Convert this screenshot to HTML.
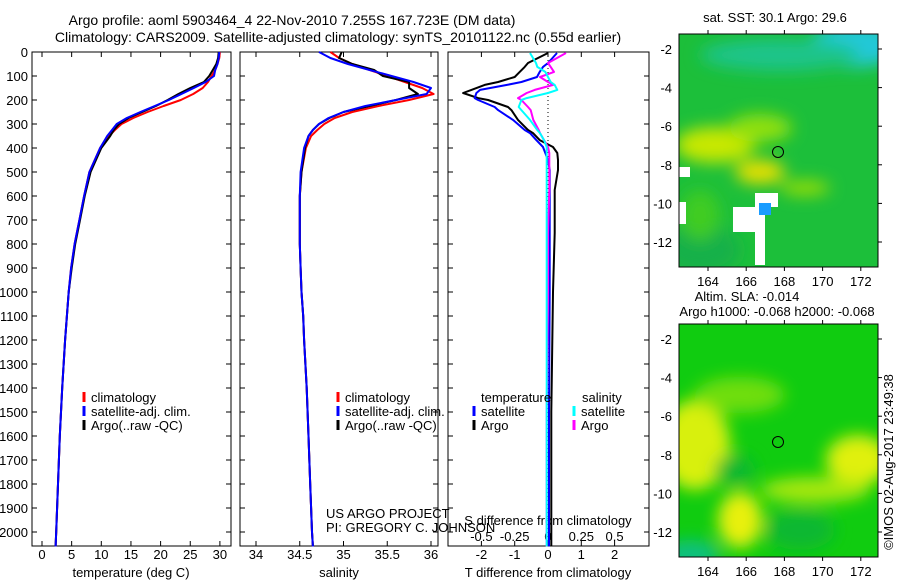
<!DOCTYPE html>
<html><head><meta charset="utf-8">
<style>
body{margin:0;background:#fff;width:900px;height:580px;overflow:hidden}
svg text{font-family:"Liberation Sans",sans-serif;font-size:13px;fill:#000}
</style></head><body>
<svg id="c" width="900" height="580" viewBox="0 0 900 580">
<defs>
<filter id="bl" x="-50%" y="-50%" width="200%" height="200%"><feGaussianBlur stdDeviation="8"/></filter>
<clipPath id="m1"><rect x="679" y="34" width="199" height="233"/></clipPath>
<clipPath id="m2"><rect x="679" y="324" width="199" height="233"/></clipPath>
</defs>
<text x="292" y="25" text-anchor="middle" style="font-size:14px">Argo profile: aoml 5903464_4 22-Nov-2010 7.255S 167.723E (DM data)</text>
<text x="338" y="42" text-anchor="middle" style="font-size:14px">Climatology: CARS2009. Satellite-adjusted climatology: synTS_20101122.nc (0.55d earlier)</text>
<g id="g"></g>
<g clip-path="url(#m1)">
<rect x="679" y="34" width="199" height="233" fill="#1cbf3a"/>
<g filter="url(#bl)">
<ellipse cx="855" cy="45" rx="45" ry="22" fill="#22c8d8"/>
<ellipse cx="780" cy="55" rx="80" ry="16" fill="#1ec48a"/>
<ellipse cx="715" cy="145" rx="40" ry="18" fill="#c8e800"/>
<ellipse cx="760" cy="172" rx="25" ry="12" fill="#e8e000"/>
<ellipse cx="760" cy="128" rx="32" ry="14" fill="#90e010"/>
<ellipse cx="700" cy="250" rx="40" ry="25" fill="#18b048"/>
<ellipse cx="805" cy="188" rx="25" ry="7" fill="#a0e000"/>
<ellipse cx="700" cy="215" rx="20" ry="25" fill="#40cc20"/>
</g>
<rect x="679" y="167" width="11" height="10" fill="#fff"/>
<rect x="679" y="202" width="7" height="22" fill="#fff"/>
<rect x="733" y="207" width="26" height="25" fill="#fff"/>
<rect x="755" y="193" width="23" height="14" fill="#fff"/>
<rect x="755" y="205" width="10" height="60" fill="#fff"/>
<rect x="759" y="203" width="12" height="12" fill="#1a9cff"/>
<circle cx="778" cy="152" r="5.5" fill="none" stroke="#000"/>
</g>
<rect x="679" y="34" width="199" height="233" fill="none" stroke="#000"/>
<g clip-path="url(#m2)">
<rect x="679" y="324" width="199" height="233" fill="#10cc10"/>
<g filter="url(#bl)">
<ellipse cx="695" cy="445" rx="35" ry="45" fill="#d8f010"/>
<ellipse cx="740" cy="395" rx="45" ry="18" fill="#70de10"/>
<ellipse cx="740" cy="520" rx="22" ry="28" fill="#e8f010"/>
<ellipse cx="858" cy="460" rx="32" ry="25" fill="#e0f010"/>
<ellipse cx="815" cy="490" rx="55" ry="13" fill="#a8e810"/>
<ellipse cx="800" cy="530" rx="35" ry="20" fill="#10b830"/>
<ellipse cx="735" cy="470" rx="20" ry="15" fill="#10b830"/>
<ellipse cx="690" cy="555" rx="30" ry="15" fill="#10c080"/>
</g>
<circle cx="778" cy="442" r="5.5" fill="none" stroke="#000"/>
</g>
<rect x="679" y="324" width="199" height="233" fill="none" stroke="#000"/>
<text x="775" y="22" text-anchor="middle">sat. SST: 30.1  Argo: 29.6</text>
<text x="747" y="301" text-anchor="middle">Altim. SLA: -0.014</text>
<text x="777" y="316" text-anchor="middle">Argo h1000: -0.068 h2000: -0.068</text>
<text transform="translate(893,462) rotate(-90)" text-anchor="middle">©IMOS 02-Aug-2017 23:49:38</text>
</svg>
<script>
const depths=[0,25,50,75,100,125,150,175,200,225,250,275,300,325,350,400,500,600,700,800,900,1000,1100,1200,1400,1600,1800,2000,2060];
const tClim=[30,29.9,29.6,29.2,28.6,28.0,27.1,25.5,23.4,20.5,17.8,15.4,13.4,12.3,11.3,9.8,8.0,7.1,6.3,5.5,4.9,4.5,4.2,3.9,3.4,3.0,2.7,2.4,2.3];
const tSat=[29.9,29.8,29.6,29.2,29.0,27.6,25.6,23.5,21.4,19.0,16.6,14.3,12.6,11.8,11.0,9.8,8.0,7.1,6.3,5.5,4.9,4.5,4.2,3.9,3.4,3.0,2.7,2.4,2.3];
const tArgo=[29.8,29.7,29.4,28.8,28.2,27.3,25.0,23.0,21.2,19.2,16.9,14.6,13.0,12.1,11.5,10.0,8.2,7.2,6.4,5.6,5.0,4.5,4.2,3.9,3.4,3.0,2.7,2.4,2.3];
const sClim=[34.85,34.95,35.1,35.3,35.5,35.7,35.9,36.03,35.75,35.4,35.1,34.9,34.78,34.7,34.63,34.57,34.52,34.5,34.5,34.5,34.51,34.52,34.54,34.55,34.58,34.6,34.62,34.64,34.65];
const sSat=[34.72,34.85,35.05,35.3,35.55,35.8,36.0,35.95,35.6,35.25,35.0,34.83,34.72,34.65,34.6,34.55,34.51,34.5,34.5,34.5,34.51,34.52,34.54,34.55,34.58,34.6,34.62,34.64,34.65];
const sArgo=[34.98,34.95,35.1,35.35,35.45,35.75,35.75,35.85,35.6,35.3,35.0,34.84,34.72,34.65,34.6,34.56,34.52,34.5,34.5,34.5,34.51,34.52,34.54,34.55,34.58,34.6,34.62,34.64,34.65];
const dDepth=[4,46,62,83,104,125,137,158,171,192,200,229,242,283,325,338,367,396,421,450,492,575,754,1000,1500,2060];
const dtArgo=[0,-0.6,-0.7,-0.85,-1.0,-1.5,-1.9,-2.3,-2.55,-2.1,-1.8,-1.2,-1.1,-0.9,-0.6,-0.45,-0.25,0.15,0.28,0.3,0.3,0.2,0.2,0.15,0.1,0.1];
const dtSat=[0.27,0,-0.15,-0.25,-0.33,-0.8,-1.23,-2.04,-2.15,-2.2,-2.1,-1.6,-1.5,-1.05,-0.7,-0.54,-0.35,-0.15,-0.08,0,0.05,0.05,0.05,0.05,0.03,0.03];
const dsArgo=[0.135,0,0.02,0.045,-0.06,0.0,0.04,-0.1,-0.16,-0.225,-0.2,-0.15,-0.13,-0.11,-0.07,-0.06,-0.03,0,0.01,0.01,0.01,0.01,0.0,0.0,-0.01,-0.01];
const dsSat=[-0.135,-0.09,-0.08,-0.02,0,0.02,0.05,0.07,0.0,-0.16,-0.2,-0.22,-0.2,-0.135,-0.08,-0.06,-0.03,-0.01,-0.01,-0.01,-0.01,-0.01,-0.01,-0.01,-0.01,-0.01];
const depthTicks=[0,100,200,300,400,500,600,700,800,900,1000,1100,1200,1300,1400,1500,1600,1700,1800,1900,2000];
const tTicks=[0,5,10,15,20,25,30];
const sTicks=[34,34.5,35,35.5,36];
const sTickLabels=["34","34.5","35","35.5","36"];
const dTTicks=[-2,-1,0,1,2];
const dSTicks=[-0.5,-0.25,0,0.25,0.5];
const latTicks=[-2,-4,-6,-8,-10,-12];
const lonTicks=[164,166,168,170,172];

const NS="http://www.w3.org/2000/svg";
const G=document.getElementById('g');
function el(t,a,p){const e=document.createElementNS(NS,t);for(const k in a)e.setAttribute(k,a[k]);(p||G).appendChild(e);return e;}
function txt(x,y,s,anchor,p){const e=el('text',{x:x,y:y,'text-anchor':anchor||'start'},p);e.textContent=s;return e;}
const Y0=52,Y1=546;
const yD=d=>Y0+d*0.24;
const xT=t=>42+t*5.93;
const xS=s=>256+(s-34)*87.5;
const xDT=t=>548+t*33.3;
const xDS=s=>548+s*133.2;

function frame(x0,x1,name){
  const r=el('rect',{x:x0,y:Y0,width:x1-x0,height:Y1-Y0,fill:'none',stroke:'#000'});
  
  
  depthTicks.forEach(d=>{el('line',{x1:x0,x2:x0+5,y1:yD(d),y2:yD(d),stroke:'#000'});el('line',{x1:x1-5,x2:x1,y1:yD(d),y2:yD(d),stroke:'#000'});});
}
function xticks(xs,f,labels,ly){
  xs.forEach((v,i)=>{const x=f(v);el('line',{x1:x,x2:x,y1:Y1,y2:Y1-5,stroke:'#000'});el('line',{x1:x,x2:x,y1:Y0,y2:Y0+5,stroke:'#000'});
    const t=txt(x,ly,labels[i],'middle');
    
    });
}
function line(xs,ds,fx,color,name,w){
  const pts=xs.map((v,i)=>fx(v).toFixed(1)+','+yD(ds[i]).toFixed(1)).join(' ');
  const p=el('polyline',{points:pts,fill:'none',stroke:color,'stroke-width':w||2,'stroke-linejoin':'round'});
  
  
}
function legend(x,y,color,label){
  el('line',{x1:x,x2:x,y1:y-10,y2:y,stroke:color,'stroke-width':3});
  const t=txt(x+7,y,label);
  
  
}
frame(32,231,'temperature-panel');
depthTicks.forEach(d=>{const t=txt(28,yD(d)+5,String(d),'end');
  
  });
xticks(tTicks,xT,tTicks.map(String),559);
txt(131,577,'temperature (deg C)','middle');
line(tClim,depths,xT,'#f00','temp-climatology-line');
line(tArgo,depths,xT,'#000','temp-argo-line');
line(tSat,depths,xT,'#00f','temp-satellite-line');
legend(84,402,'#f00','climatology');legend(84,416,'#00f','satellite-adj. clim.');legend(84,430,'#000','Argo(..raw -QC)');
frame(240,438,'salinity-panel');
xticks(sTicks,xS,sTickLabels,559);
txt(339,577,'salinity','middle');
line(sClim,depths,xS,'#f00','sal-climatology-line');
line(sArgo,depths,xS,'#000','sal-argo-line');
line(sSat,depths,xS,'#00f','sal-satellite-line');
legend(338,402,'#f00','climatology');legend(338,416,'#00f','satellite-adj. clim.');legend(338,430,'#000','Argo(..raw -QC)');
txt(326,518,'US ARGO PROJECT');
txt(326,532,'PI: GREGORY C. JOHNSON');
frame(448,649,'difference-panel');
el('line',{x1:548,x2:548,y1:Y0,y2:Y1,stroke:'#000','stroke-dasharray':'1,3'});
xticks(dTTicks,xDT,dTTicks.map(String),559);
dSTicks.forEach(v=>{const t=txt(xDS(v),541,String(v),'middle');
  
  });
txt(548,525,'S difference from climatology','middle');
txt(548,577,'T difference from climatology','middle');
line(dtArgo,dDepth,xDT,'#000','t-diff-argo-line');
line(dtSat,dDepth,xDT,'#00f','t-diff-satellite-line');
line(dsArgo,dDepth,xDS,'#f0f','s-diff-argo-line');
line(dsSat,dDepth,xDS,'#0ff','s-diff-satellite-line');
txt(481,402,'temperature');
txt(582,402,'salinity');
legend(474,416,'#00f','satellite');legend(474,430,'#000','Argo');
legend(574,416,'#0ff','satellite');legend(574,430,'#f0f','Argo');
function mapAxes(top,lat2y,ly){
  latTicks.forEach(v=>{const y=lat2y(v);el('line',{x1:679,x2:683,y1:y,y2:y,stroke:'#000'});el('line',{x1:874,x2:882,y1:y,y2:y,stroke:'#000'});
    const t=txt(672,y+5,String(v),'end');
    
    });
  lonTicks.forEach(v=>{const x=708+(v-164)*19.1;el('line',{x1:x,x2:x,y1:top-4,y2:top,stroke:'#000'});el('line',{x1:x,x2:x,y1:top+233,y2:top+237,stroke:'#000'});
    const t=txt(x,ly,String(v),'middle');
    
    });
}
mapAxes(34,v=>49+(-2-v)*19.3,286);
mapAxes(324,v=>339+(-2-v)*19.3,576);
</script>
</body></html>
